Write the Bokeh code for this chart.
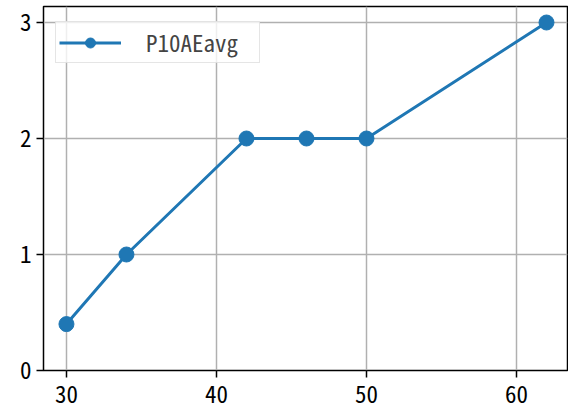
from bokeh.plotting import figure
from bokeh.models import Range1d, FixedTicker, Legend, LegendItem
from bokeh.embed import file_html
from bokeh.resources import INLINE

x_vals = [30, 34, 42, 46, 50, 62]
y_vals = [0.4, 1, 2, 2, 2, 3]
series_name = "P10AEavg"
x_ticks = [30, 40, 50, 60]
y_ticks = [0, 1, 2, 3]

FONT = "'Noto Sans Mono CJK JP', 'Noto Sans CJK JP', sans-serif"
COLOR = "#1f77b4"

p = figure(width=568, height=412, output_backend="svg", toolbar_location=None,
           x_range=Range1d(28.47, 63.4), y_range=Range1d(0, 3.138),
           min_border_left=43, min_border_right=1, min_border_top=6, min_border_bottom=42)
p.outline_line_color = "black"
p.outline_line_width = 1.5

r_line = p.line(x_vals, y_vals, line_color=COLOR, line_width=3)
r_pts = p.scatter(x_vals, y_vals, size=15, fill_color=COLOR, line_color=COLOR)

for ax, ticks in ((p.xaxis[0], x_ticks), (p.yaxis[0], y_ticks)):
    ax.ticker = FixedTicker(ticks=ticks)
    ax.axis_line_color = None
    ax.major_tick_line_color = "black"
    ax.major_tick_line_width = 1.5
    ax.major_tick_out = 7
    ax.major_tick_in = 0
    ax.minor_tick_line_color = None
    ax.major_label_text_font = FONT
    ax.major_label_text_font_size = "23px"
    ax.major_label_text_color = "black"
p.xaxis[0].major_label_standoff = 8
p.yaxis[0].major_label_standoff = 5

p.xgrid.grid_line_color = "#b0b0b0"
p.ygrid.grid_line_color = "#b0b0b0"
p.xgrid.grid_line_width = 1.5
p.ygrid.grid_line_width = 1.5

legend = Legend(items=[LegendItem(label=series_name, renderers=[r_line, r_pts])],
                location=(12, 307))
legend.label_text_font = FONT
legend.label_text_font_size = "23px"
legend.border_line_color = "#cccccc"
legend.border_line_width = 1.5
legend.background_fill_alpha = 0.8
legend.glyph_width = 62
legend.glyph_height = 25
legend.label_height = 25
legend.label_width = 110
legend.label_standoff = 25
legend.margin = 0
legend.padding = 3
p.add_layout(legend)

open("out.html", "w").write(file_html(p, INLINE))
